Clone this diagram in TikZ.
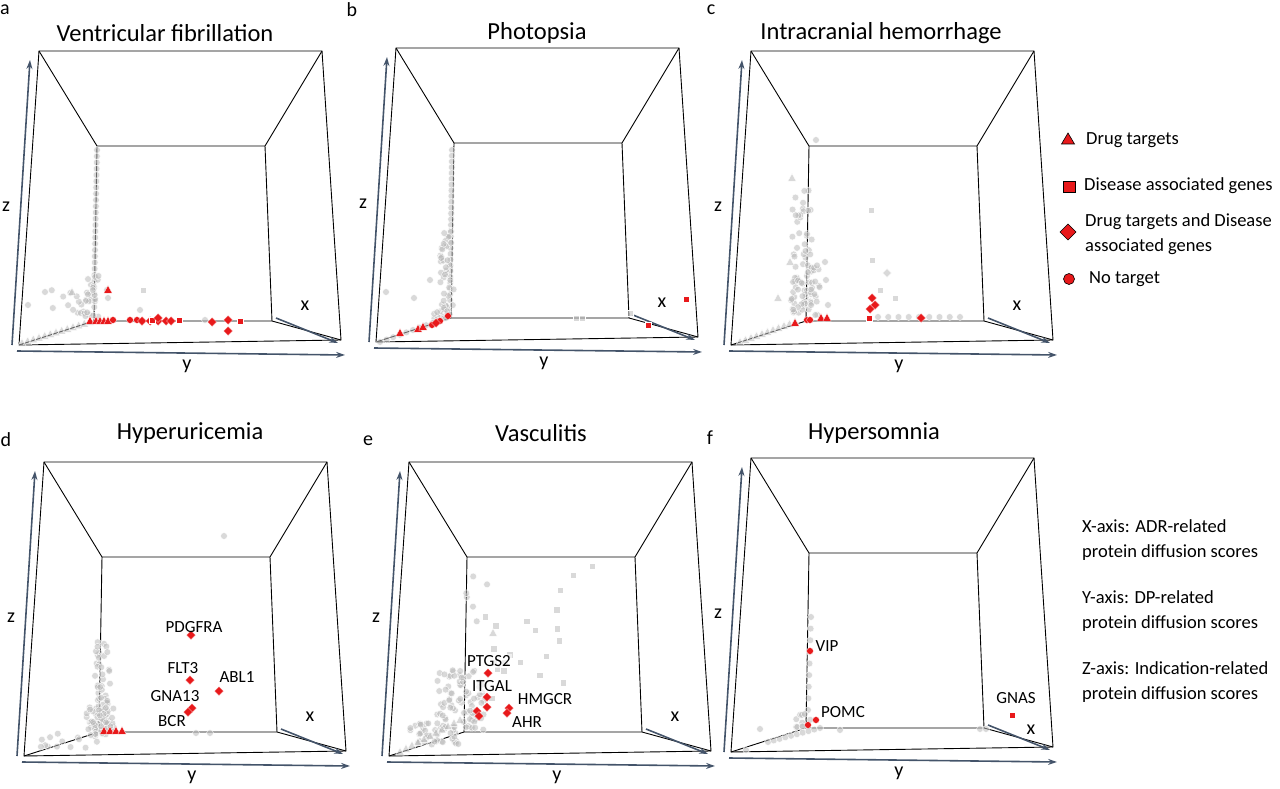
\documentclass[tikz,border=0pt]{standalone}
\usepackage{fontspec}
\setmainfont{Carlito}
\usetikzlibrary{arrows.meta}
\definecolor{axc}{HTML}{44546A}
\definecolor{rd}{HTML}{E8191B}
\tikzset{
  frame/.style={black,line width=0.9pt},
  ax/.style={axc,line width=1.6pt,-{Stealth[length=9pt,width=6pt]}},
  gpt/.style={fill=gray!55,fill opacity=.55,draw=white,line width=.4pt},
  rpt/.style={fill=rd,draw=white,line width=.3pt},
  lpt/.style={fill=rd,draw=black,line width=.6pt},
  ttl/.style={font=\fontsize{24.5}{27}\selectfont},
  lab/.style={font=\fontsize{20}{22}\selectfont},
  gene/.style={font=\fontsize{17}{19}\selectfont},
  gl/.style={font=\fontsize{18.5}{25.5}\selectfont,anchor=west,inner sep=0pt},
}
\newcommand\mcir[3]{\path[#3] (#1,#2) circle (3.4);}
\newcommand\msq[3]{\path[#3] (#1-3.3,#2-3.3) rectangle (#1+3.3,#2+3.3);}
\newcommand\mdia[3]{\path[#3] (#1,#2-4.5)--(#1+4.5,#2)--(#1,#2+4.5)--(#1-4.5,#2)--cycle;}
\newcommand\mtri[3]{\path[#3] (#1,#2-4.5)--(#1+4.2,#2+3.2)--(#1-4.2,#2+3.2)--cycle;}
\newcommand\gcloud[5]{\foreach \i in {1,...,#5}{%
  \pgfmathsetmacro\px{#1+#3*rand}\pgfmathsetmacro\py{#2+#4*rand}%
  \mcir{\px}{\py}{gpt}}}
\newcommand\gsqcloud[5]{\foreach \i in {1,...,#5}{%
  \pgfmathsetmacro\px{#1+#3*rand}\pgfmathsetmacro\py{#2+#4*rand}%
  \msq{\px}{\py}{gpt}}}
\newcommand\gline[5]{\foreach \i in {0,...,#5}{%
  \pgfmathsetmacro\px{#1+(#3-#1)*\i/#5}\pgfmathsetmacro\py{#2+(#4-#2)*\i/#5}%
  \mcir{\px}{\py}{gpt}}}
\newcommand\gtline[5]{\foreach \i in {0,...,#5}{%
  \pgfmathsetmacro\px{#1+(#3-#1)*\i/#5}\pgfmathsetmacro\py{#2+(#4-#2)*\i/#5}%
  \mtri{\px}{\py}{gpt}}}
% panel: dx dy xlabel-x xlabel-y
\newcommand\panel[4]{%
\begin{scope}[shift={(#1,#2)}]
 \draw[frame] (39,51)--(322,51)--(341,340)--(19,345)--cycle;
 \draw[frame] (97,146)--(265,146)--(272,321)--(94,321)--cycle;
 \draw[frame] (39,51)--(97,146) (322,51)--(265,146) (341,340)--(272,321) (19,345)--(94,321);
 \draw[ax] (12,345)--(30,60);
 \draw[ax] (17,351)--(345,355);
 \draw[ax] (276,318)--(338,343);
 \node[lab] (zl#1#2) at (6,207) {z};
 \node[lab] (yl#1#2) at (187,366) {y};
 \node[lab] (xl#1#2) at (#3,#4) {x};
\end{scope}}
\begin{document}
\begin{tikzpicture}[x=1pt,y=-1pt]
\useasboundingbox (0,0) rectangle (1280,789);
\pgfmathsetseed{7}
\node[lab] (la) at (5,10) {a};
\node[lab] (lb) at (352,10) {b};
\node[lab] (lc) at (711,10) {c};
\node[lab] (ld) at (6,440) {d};
\node[lab] (le) at (368,441) {e};
\node[lab] (lf) at (710,438) {f};
\node[ttl] (ta) at (165,33) {Ventricular fibrillation};
\node[ttl] (tb) at (537,33) {Photopsia};
\node[ttl] (tc) at (881,33) {Intracranial hemorrhage};
\node[ttl] (td) at (190,433) {Hyperuricemia};
\node[ttl] (te) at (541,433) {Vasculitis};
\node[ttl] (tf) at (874,433) {Hypersomnia};
\panel{0}{0}{305}{306}
\panel{357}{-3}{305}{306}
\panel{712}{0}{305}{306}
\panel{5}{411}{305}{306}
\panel{370}{411}{305}{306}
\panel{712}{407}{319}{323}
% ---- panel a data
\gline{97}{150}{94}{300}{24}
\gcloud{88}{295}{14}{22}{30}
\gtline{22}{343}{90}{322}{12}
\gcloud{70}{300}{30}{10}{8}
\msq{143}{290}{gpt}\mtri{72}{292}{gpt}\mcir{28}{305}{gpt}\mcir{45}{292}{gpt}
\mcir{108}{298}{gpt}\mcir{107}{290}{gpt}
\foreach \x in {90,96,100,104,108}{\mtri{\x}{321}{rpt}}
\mtri{108}{290}{rpt}
\foreach \x in {113,130,137}{\mcir{\x}{320}{rpt}}
\foreach \x in {142,150,158,166,171}{\mdia{\x}{321}{rpt}}
\msq{152}{320}{rpt}\msq{179}{320}{rpt}\msq{240}{321}{rpt}
\mdia{158}{318}{rpt}\mdia{212}{322}{rpt}\mdia{228}{320}{rpt}\mdia{228}{331}{rpt}
\mcir{205}{320}{gpt}\mcir{140}{310}{gpt}
% ---- panel b data
\gline{452}{150}{450}{300}{26}
\gcloud{447}{270}{7}{40}{35}
\gcloud{440}{310}{10}{10}{15}
\gline{380}{342}{446}{318}{10}
\mcir{386}{292}{gpt}\mcir{414}{298}{gpt}\mcir{430}{280}{gpt}
\mtri{400}{333}{rpt}\mtri{418}{329}{rpt}\mtri{423}{327}{rpt}
\mcir{432}{325}{rpt}\mcir{440}{321}{rpt}\mcir{448}{316}{rpt}\mdia{436}{323}{rpt}
\msq{576}{318}{gpt}\msq{582}{318}{gpt}\msq{630}{313}{gpt}
\msq{648}{325}{rpt}\msq{686}{299}{rpt}
% ---- panel c data
\gcloud{802}{250}{10}{60}{55}
\gcloud{805}{290}{15}{25}{40}
\gtline{740}{342}{795}{322}{10}
\mtri{792}{178}{gpt}\mtri{790}{262}{gpt}\mtri{778}{298}{gpt}
\mcir{816}{140}{gpt}\mcir{825}{262}{gpt}\mcir{826}{280}{gpt}\mcir{828}{305}{gpt}
\msq{871}{210}{gpt}\msq{872}{260}{gpt}\mdia{887}{273}{gpt}\msq{880}{290}{gpt}\msq{895}{298}{gpt}
\gline{878}{317}{960}{317}{8}
\mtri{795}{323}{rpt}\mcir{807}{320}{rpt}\mcir{810}{320}{rpt}\mtri{821}{318}{rpt}\mtri{827}{318}{rpt}
\mdia{872}{298}{rpt}\mdia{875}{305}{rpt}\mdia{870}{309}{rpt}\msq{869}{318}{rpt}\mdia{921}{318}{rpt}
% ---- panel d data
\gcloud{102}{690}{8}{50}{60}
\gcloud{100}{720}{14}{15}{40}
\gcloud{70}{740}{30}{8}{15}
\mcir{224}{536}{gpt}\mcir{196}{733}{gpt}\mcir{210}{733}{gpt}
\foreach \x in {104,110,116,122}{\mtri{\x}{731}{rpt}}
\mdia{191}{635}{rpt}\mdia{190}{680}{rpt}\mdia{219}{691}{rpt}\mdia{192}{708}{rpt}\mdia{188}{712}{rpt}
\node[gene] (pdg) at (194,627) {PDGFRA};
\node[gene] (flt) at (183,668) {FLT3};
\node[gene] (abl) at (237,677) {ABL1};
\node[gene] (gna) at (175,696) {GNA13};
\node[gene] (bcr) at (172,721) {BCR};
% ---- panel e data
\gcloud{460}{700}{25}{30}{80}
\gcloud{435}{735}{25}{12}{40}
\gtline{400}{752}{460}{720}{10}
\gsqcloud{530}{640}{45}{60}{18}
\gcloud{475}{600}{15}{25}{6}
\msq{592}{566}{gpt}\msq{573}{575}{gpt}\msq{560}{590}{gpt}\mtri{493}{633}{gpt}
\mdia{488}{673}{rpt}\mdia{487}{697}{rpt}\mdia{487}{707}{rpt}\mdia{477}{711}{rpt}\mdia{479}{716}{rpt}
\mdia{509}{708}{rpt}\mdia{507}{713}{rpt}
\node[gene,fill=white,fill opacity=.6,text opacity=1,inner sep=1pt] (ptg) at (489,661) {PTGS2};
\node[gene,fill=white,fill opacity=.6,text opacity=1,inner sep=1pt] (itg) at (492,686) {ITGAL};
\node[gene] (hmg) at (545,699) {HMGCR};
\node[gene] (ahr) at (527,722) {AHR};
% ---- panel f data
\gline{811}{617}{808}{710}{8}
\gcloud{806}{722}{10}{8}{10}
\gline{768}{742}{820}{728}{9}
\foreach \x/\y in {785/735,790/733,795/731,800/728}{\path[rd] (\x-1,\y-4) rectangle (\x+1,\y+4);}
\mcir{760}{729}{gpt}\mcir{840}{730}{gpt}\mcir{980}{729}{gpt}\mcir{986}{729}{gpt}\mcir{746}{750}{gpt}
\mcir{810}{651}{rpt}\mcir{816}{720}{rpt}\mcir{808}{725}{rpt}\msq{1012}{715}{rpt}
\node[gene] (vip) at (827,646) {VIP};
\node[gene] (pomc) at (843,712) {POMC};
\node[gene] (gnas) at (1016,698) {GNAS};
% ---- legend
\path[lpt] (1068,133)--(1074.5,144)--(1061.5,144)--cycle;
\node[gl] (l1) at (1086,140) {Drug targets};
\path[lpt] (1063,181) rectangle (1075,192);
\node[gl] (l2) at (1084,186) {Disease associated genes};
\path[lpt] (1068,224)--(1076,232)--(1068,240)--(1060,232)--cycle;
\node[gl,align=left] (l3) at (1085,234) {Drug targets and Disease\\associated genes};
\path[lpt] (1069,279) circle (5.5);
\node[gl] (l4) at (1089,279) {No target};
\node[gl,align=left] (ax1) at (1082,540) {X-axis: ADR-related\\protein diffusion scores};
\node[gl,align=left] (ax2) at (1082,611) {Y-axis: DP-related\\protein diffusion scores};
\node[gl,align=left] (ax3) at (1082,682) {Z-axis: Indication-related\\protein diffusion scores};
\end{tikzpicture}
\end{document}
